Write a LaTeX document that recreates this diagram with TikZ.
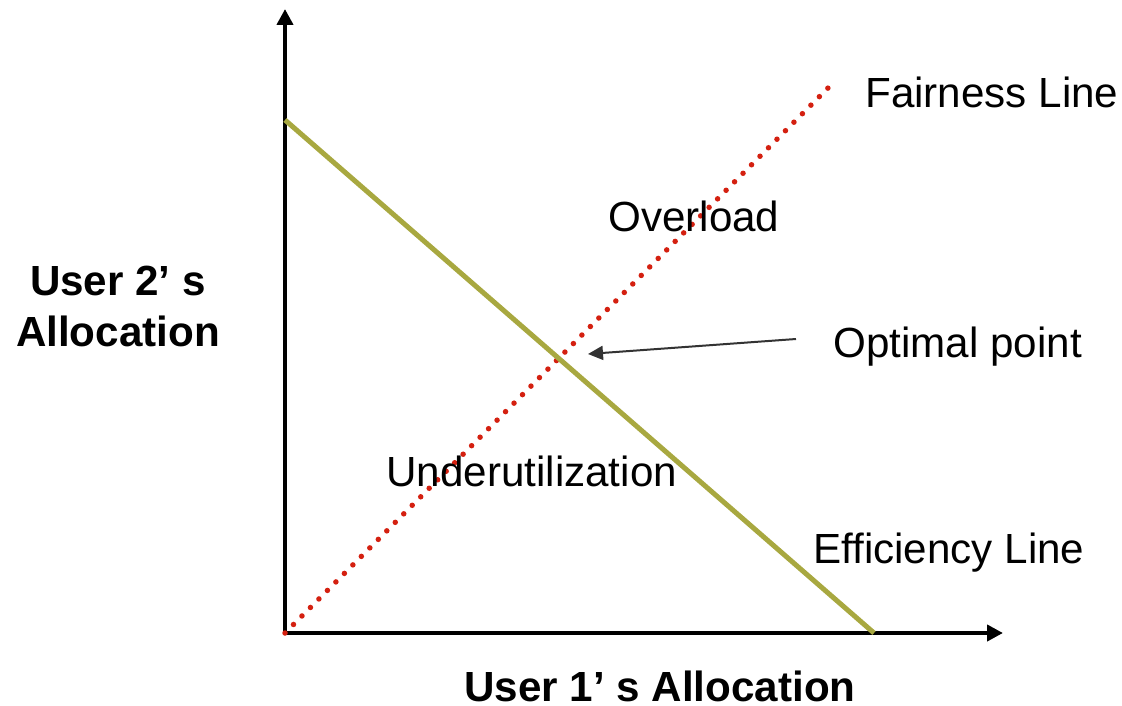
\documentclass[tikz,border=0pt]{standalone}
\usepackage{fontspec}
\setmainfont{Liberation Sans}
\usetikzlibrary{arrows.meta,calc}
\definecolor{effcolor}{RGB}{168,168,64}
\definecolor{faircolor}{RGB}{212,32,16}
\definecolor{ptrcolor}{RGB}{51,51,51}
\begin{document}
\begin{tikzpicture}[x=0.02cm,y=-0.02cm,
  lbl/.style={anchor=base west,inner sep=0pt,font=\fontsize{24}{28}\selectfont},
  axlbl/.style={lbl,font=\fontsize{24}{28.5}\selectfont\bfseries},
  axis/.style={line width=0.08cm,-{Triangle[length=0.32cm,width=0.32cm]}},
  effline/.style={effcolor,line width=0.1cm},
  fairline/.style={faircolor,line width=0.11cm,line cap=round,dash pattern=on 0pt off 0.2404cm}]
\useasboundingbox (0,0) rectangle (1122,706);
\coordinate (o) at (285,633);
\coordinate (ytop) at (285,9);
\coordinate (xend) at (1003,633);
\coordinate (e1) at (285,120);
\coordinate (e2) at (874,633);
\coordinate (f2) at (828,88);
\coordinate (opt) at (559,358);
\coordinate (ptr) at (796,339);
\draw[axis] (o) -- (ytop);
\draw[axis] (o) -- (xend);
\draw[fairline] (o) -- (f2);
\draw[effline] (e1) -- (e2);
\draw[ptrcolor,line width=0.04cm,-{Triangle[length=0.3cm,width=0.28cm]}] (ptr) -- ($(opt)+(29,-4)$);
\node [lbl] (fair) at (865,108) {Fairness Line};
\node [lbl] (over) at (608,231) {Overload};
\node [lbl] (optl) at (833,357) {Optimal point};
\node [lbl] (under) at (386,486) {Underutilization};
\node [lbl] (eff) at (813,563) {Efficiency Line};
\node [axlbl,anchor=base,text depth=0pt] (xlbl) at (660,701) {User 1’ s Allocation};
\node [axlbl,anchor=base,align=center] (ylbl) at (118,346) {User 2’ s\\Allocation};
\end{tikzpicture}
\end{document}
